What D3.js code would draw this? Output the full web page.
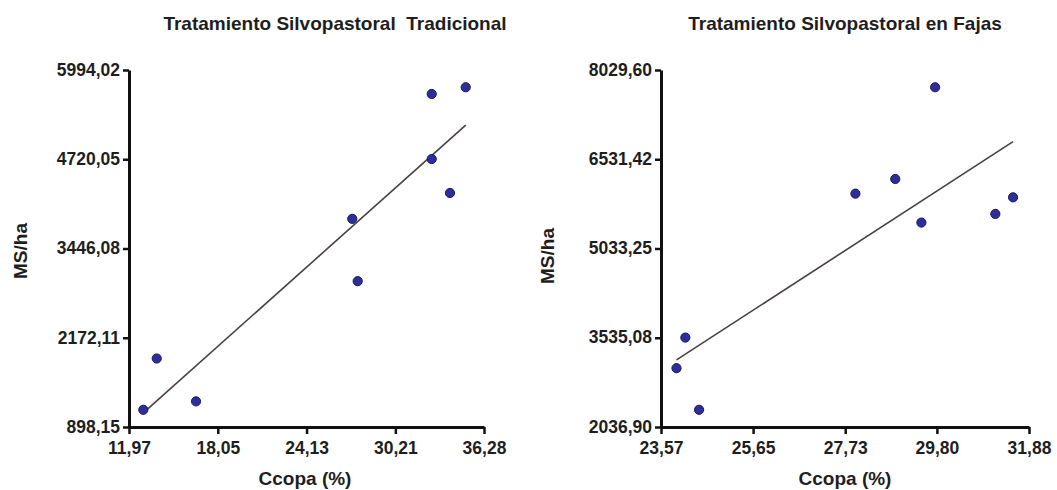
<!DOCTYPE html>
<html>
<head>
<meta charset="utf-8">
<script src="https://cdn.jsdelivr.net/npm/d3@7"></script>
<style>
  html, body { margin: 0; padding: 0; background: #fff; }
  svg { display: block; }
  text { font-family: "Liberation Sans", Arial, sans-serif; font-weight: bold; fill: #1e1e1e; }
</style>
</head>
<body>
<svg id="chart" width="1057" height="490"></svg>
<script>
// ---- Data ----
const titles = ["Tratamiento Silvopastoral  Tradicional", "Tratamiento Silvopastoral en Fajas"];
const xLabel = "Ccopa (%)";
const yLabel = "MS/ha";

// Panel 1: Tradicional
const tradX = [12.95, 13.87, 16.56, 27.26, 27.63, 32.70, 32.70, 33.95, 35.03];
const tradY = [1144, 1876, 1264, 3869, 2980, 5652, 4723, 4239, 5748];
const tradXTicks = [11.97, 18.05, 24.13, 30.21, 36.28];
const tradYTicks = [898.15, 2172.11, 3446.08, 4720.05, 5994.02];

// Panel 2: Fajas
const fajasX = [23.92, 24.12, 24.43, 27.96, 28.86, 29.45, 29.76, 31.12, 31.52];
const fajasY = [3024, 3538, 2326, 5954, 6200, 5468, 7740, 5614, 5892];
const fajasXTicks = [23.57, 25.65, 27.73, 29.80, 31.88];
const fajasYTicks = [2036.90, 3535.08, 5033.25, 6531.42, 8029.60];

// ---- Rendering ----
const locale = d3.formatLocale({ decimal: ",", thousands: "", grouping: [3], currency: ["", ""] });
const fmt = locale.format(".2f");
const svg = d3.select("#chart");

function linreg(xs, ys) {
  const mx = d3.mean(xs), my = d3.mean(ys);
  let sxy = 0, sxx = 0;
  xs.forEach((x, i) => { sxy += (x - mx) * (ys[i] - my); sxx += (x - mx) * (x - mx); });
  const b = sxy / sxx;
  return { a: my - b * mx, b };
}

function panel(cfg) {
  const { xs, ys, xTicks, yTicks, title, left, right, top, bottom, titleX, yLabelX, yLabelY, xLabelX } = cfg;
  const x = d3.scaleLinear().domain([xTicks[0], xTicks[xTicks.length - 1]]).range([left, right]);
  const y = d3.scaleLinear().domain([yTicks[0], yTicks[yTicks.length - 1]]).range([bottom, top]);
  const g = svg.append("g");

  // regression line
  const r = linreg(xs, ys);
  const x0 = d3.min(xs), x1 = d3.max(xs);
  g.append("line")
    .attr("x1", x(x0)).attr("y1", y(r.a + r.b * x0))
    .attr("x2", x(x1)).attr("y2", y(r.a + r.b * x1))
    .attr("stroke", "#4a4040").attr("stroke-width", 1.6);

  // axes
  const xAxis = d3.axisBottom(x).tickValues(xTicks).tickFormat(fmt).tickSize(7).tickSizeOuter(0).tickPadding(6);
  const yAxis = d3.axisLeft(y).tickValues(yTicks).tickFormat(fmt).tickSize(6).tickSizeOuter(0).tickPadding(3);
  const gx = g.append("g").attr("transform", `translate(0,${bottom})`).call(xAxis);
  const gy = g.append("g").attr("transform", `translate(${left},0)`).call(yAxis);
  [gx, gy].forEach(a => {
    a.select(".domain").attr("stroke", "#111").attr("stroke-width", 3);
    a.selectAll(".tick line").attr("stroke", "#111").attr("stroke-width", 2.5);
    a.selectAll(".tick text").attr("font-size", 17.5).attr("font-family", null).attr("fill", "#1e1e1e");
  });
  gx.selectAll(".tick text").attr("dy", "0.82em");
  gy.selectAll(".tick text").attr("dy", "0.3em");

  // points
  g.selectAll("circle.pt").data(xs.map((v, i) => [v, ys[i]])).join("circle")
    .attr("class", "pt")
    .attr("cx", d => x(d[0])).attr("cy", d => y(d[1])).attr("r", 4.6)
    .attr("fill", "#2e2e9a").attr("stroke", "#1a1a5e").attr("stroke-width", 1);

  // labels
  g.append("text").attr("x", titleX).attr("y", 30).attr("text-anchor", "middle")
    .attr("font-size", 19).style("white-space", "pre").text(title);
  g.append("text").attr("x", xLabelX).attr("y", 485).attr("text-anchor", "middle")
    .attr("font-size", 19).text(xLabel);
  g.append("text").attr("transform", `translate(${yLabelX},${yLabelY}) rotate(-90)`)
    .attr("text-anchor", "middle").attr("font-size", 19).text(yLabel);
}

panel({ xs: tradX, ys: tradY, xTicks: tradXTicks, yTicks: tradYTicks, title: titles[0],
  left: 129, right: 484, top: 70, bottom: 427, titleX: 335, yLabelX: 27, yLabelY: 251, xLabelX: 305 });
panel({ xs: fajasX, ys: fajasY, xTicks: fajasXTicks, yTicks: fajasYTicks, title: titles[1],
  left: 661, right: 1029, top: 70, bottom: 427, titleX: 845, yLabelX: 554, yLabelY: 256, xLabelX: 845 });
</script>
</body>
</html>
